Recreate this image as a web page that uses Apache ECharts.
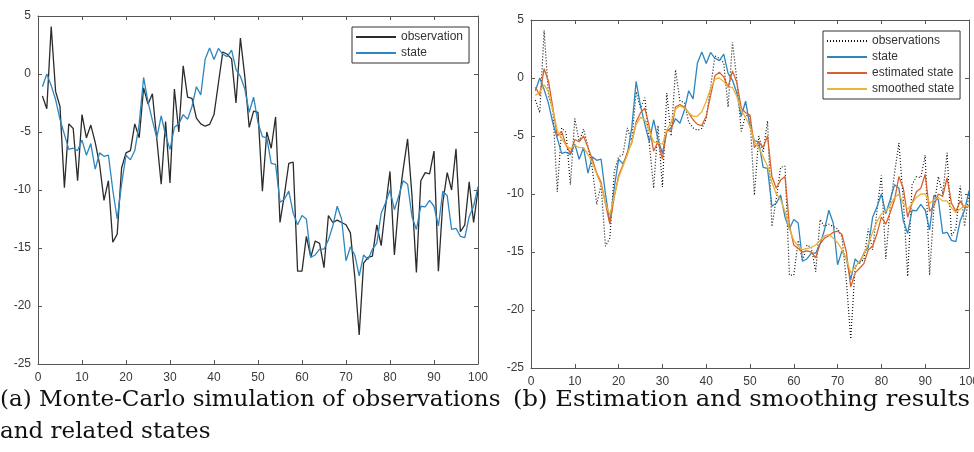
<!DOCTYPE html>
<html>
<head>
<meta charset="utf-8">
<script src="https://cdn.jsdelivr.net/npm/echarts@6/dist/echarts.min.js"></script>
<style>
html,body{margin:0;padding:0;background:#fff;}
#chart{width:974px;height:452px;}
</style>
</head>
<body>
<div id="chart"></div>
<script>
// time steps 1..100
const steps = Array.from({length: 100}, (_, k) => k + 1);

const observation = [
  -1.9, -3.0, 4.1, -1.5, -2.8, -9.8, -4.3, -4.7, -9.2, -3.5,
  -5.5, -4.4, -5.9, -7.8, -10.9, -9.2, -14.5, -13.8, -8.1, -6.8,
  -6.6, -4.3, -5.5, -1.2, -2.6, -1.7, -5.6, -9.5, -4.1, -9.4,
  -1.3, -5.0, 0.7, -2.0, -2.1, -3.8, -4.3, -4.5, -4.35, -3.5,
  -0.8, 1.9, 1.7, 1.3, -2.5, 3.1, -0.2, -4.6, -3.2, -3.3,
  -10.1, -5.0, -6.4, -3.7, -12.8, -10.4, -7.7, -7.6, -17.0, -17.0,
  -14.0, -15.8, -14.4, -14.6, -16.7, -12.2, -12.8, -12.6, -12.8, -13.0,
  -13.7, -17.5, -22.5, -16.3, -15.8, -15.7, -13.0, -14.8, -11.4, -8.4,
  -15.6, -11.1, -8.2, -5.6, -10.5, -17.1, -9.2, -8.5, -8.6, -6.65,
  -17.0, -11.1, -8.5, -10.0, -6.45, -13.6, -13.0, -9.3, -12.8, -10.0
];

const state = [
  -1.1, 0.0, -1.0, -2.2, -3.9, -5.2, -6.5, -6.4, -6.6, -5.7,
  -7.0, -6.0, -8.2, -6.8, -7.1, -7.0, -10.0, -12.5, -9.5, -7.0,
  -7.4, -6.6, -4.3, -0.3, -2.4, -4.0, -5.5, -3.6, -5.3, -6.5,
  -4.6, -4.3, -3.5, -3.9, -2.8, -1.1, -1.8, 1.3, 2.25, 1.25,
  2.2, 1.7, 1.5, 2.05, 0.4, -0.2, -1.3, -3.3, -2.0, -4.2,
  -5.4, -5.5, -7.7, -7.8, -11.05, -10.8, -10.1, -12.0, -13.0, -12.2,
  -12.5, -15.8, -15.6, -15.1, -15.1, -14.3, -13.1, -11.4, -12.5, -16.1,
  -14.9, -15.6, -17.4, -15.6, -16.0, -15.1, -14.6, -12.0, -11.1, -10.0,
  -11.7, -10.5, -9.2, -9.5, -12.3, -13.4, -11.4, -11.45, -10.9, -11.4,
  -13.1, -10.1, -10.5, -13.4, -13.3, -14.0, -14.1, -12.3, -11.4, -9.7
];

const estimatedState = [
  -0.8, -1.5, 0.8, -0.3, -2.6, -5.0, -4.6, -5.8, -6.5, -5.3,
  -5.5, -5.0, -6.0, -7.0, -8.2, -9.0, -10.8, -12.6, -10.3, -8.4,
  -7.5, -6.4, -5.6, -3.8, -3.0, -2.6, -4.2, -6.3, -5.5, -7.0,
  -4.5, -4.6, -2.5, -2.3, -2.5, -3.0, -3.6, -4.0, -4.1, -3.3,
  -1.5, 0.2, 0.5, 0.1, -0.8, 0.6, -0.4, -2.6, -3.0, -3.2,
  -6.0, -5.5, -6.0, -5.0, -8.5, -9.5, -8.8, -8.5, -12.7, -14.4,
  -14.7, -15.0, -14.9, -15.0, -15.5, -14.3, -13.8, -13.6, -13.3, -13.2,
  -13.5, -15.0, -18.0, -16.8, -16.4, -16.0, -14.8, -14.5, -13.4, -12.0,
  -12.6, -11.6, -10.5, -8.5, -9.5, -12.0, -10.8, -9.8, -9.5, -8.3,
  -11.5, -11.0, -10.0, -10.2, -8.6, -10.8, -11.5, -10.6, -11.2, -11.0
];

const smoothedState = [
  -1.5, -1.2, -0.6, -1.2, -2.8, -4.5, -5.2, -5.8, -6.1, -5.8,
  -6.0, -6.0, -6.6, -7.3, -8.3, -9.2, -10.8, -11.8, -10.2, -8.6,
  -7.6, -6.6, -5.5, -4.0, -3.4, -3.6, -4.6, -5.5, -5.6, -5.7,
  -4.5, -3.8, -2.7, -2.4, -2.6, -3.0, -3.3, -3.3, -2.9, -2.0,
  -0.9, -0.1, 0.0, -0.3, -0.8, -0.8, -1.6, -2.8, -3.4, -4.2,
  -5.5, -6.0, -6.8, -7.6, -9.0, -10.0, -10.5, -11.5, -13.0, -14.0,
  -14.5, -14.8, -14.7, -14.6, -14.4, -14.0, -13.6, -13.5, -13.8, -14.2,
  -14.8, -15.6, -16.8, -16.3, -15.8, -15.2, -14.3, -13.3, -12.4, -11.7,
  -11.5, -11.0, -10.3, -10.0, -10.8, -11.3, -10.8, -10.3, -10.0, -10.0,
  -10.8, -10.5, -10.3, -10.6, -10.6, -11.2, -11.6, -11.3, -11.0, -11.1
];

const xTicks = {min: 0, max: 100, interval: 10};
const yTicks = {min: -25, max: 5, interval: 5};

const captionA1 = '(a) Monte-Carlo simulation of observations';
const captionA2 = 'and related states';
const captionB = '(b) Estimation and smoothing results';

const pairs = arr => arr.map((v, k) => [steps[k], v]);

const AXIS_COLOR = '#555';
const LABEL_COLOR = '#3a3a3a';
const BLUE = '#2f86be';
const RED = '#d9622b';
const YELLOW = '#e9b43a';
const BLACK = '#2b2b2b';

// fixed plot boxes; labels may run past the page edge
const grids = [
  {left: 38, top: 16, width: 440, height: 348, outerBoundsMode: 'none', containLabel: false},
  {left: 531, top: 20, width: 438, height: 348, outerBoundsMode: 'none', containLabel: false}
];

const tickStyle = {show: true, inside: true, length: 4, lineStyle: {color: AXIS_COLOR}};
const lineStyleAxis = {show: true, onZero: false, lineStyle: {color: AXIS_COLOR, width: 1}};

function axesFor(gi) {
  const xs = [
    {type: 'value', gridIndex: gi, position: 'bottom', ...xTicks,
     axisLine: lineStyleAxis, axisTick: tickStyle,
     axisLabel: {color: LABEL_COLOR, fontSize: 12, fontFamily: 'Liberation Sans', margin: 8},
     splitLine: {show: false}},
    {type: 'value', gridIndex: gi, position: 'top', ...xTicks,
     axisLine: lineStyleAxis, axisTick: tickStyle,
     axisLabel: {show: false}, splitLine: {show: false}}
  ];
  const ys = [
    {type: 'value', gridIndex: gi, position: 'left', ...yTicks,
     axisLine: lineStyleAxis, axisTick: tickStyle,
     axisLabel: {color: LABEL_COLOR, fontSize: 12, fontFamily: 'Liberation Sans', margin: 7},
     splitLine: {show: false}},
    {type: 'value', gridIndex: gi, position: 'right', ...yTicks,
     axisLine: lineStyleAxis, axisTick: tickStyle,
     axisLabel: {show: false}, splitLine: {show: false}}
  ];
  return {xs, ys};
}

const a0 = axesFor(0), a1 = axesFor(1);

function line(name, data, color, xi, yi, type, width) {
  return {
    name, type: 'line', data: pairs(data), xAxisIndex: xi, yAxisIndex: yi,
    symbol: 'none', smooth: false, animation: false,
    lineStyle: {color, width: width || 1.3, type: type || 'solid'},
    itemStyle: {color}
  };
}

const legendText = {color: '#333', fontSize: 12, fontFamily: 'Liberation Sans'};
const legendBase = {
  orient: 'vertical', itemWidth: 40, itemHeight: 12, itemGap: 4,
  padding: [4, 6, 4, 3], borderColor: '#333', borderWidth: 1, backgroundColor: '#fff',
  textStyle: legendText, itemStyle: {opacity: 0}
};

const captionFont = '23px "DejaVu Serif"';

const option = {
  backgroundColor: '#fff',
  animation: false,
  grid: grids,
  xAxis: [...a0.xs, ...a1.xs],
  yAxis: [...a0.ys, ...a1.ys],
  legend: [
    {...legendBase, left: 352, top: 27,
     data: [{name: 'observation'}, {name: 'state'}]},
    {...legendBase, left: 823, top: 31,
     data: [{name: 'observations'}, {name: 'state '}, {name: 'estimated state'}, {name: 'smoothed state'}]}
  ],
  series: [
    line('observation', observation, BLACK, 0, 0),
    line('state', state, BLUE, 0, 0),
    line('observations', observation, '#111', 2, 2, [1, 2], 1.2),
    line('state ', state, BLUE, 2, 2),
    line('estimated state', estimatedState, RED, 2, 2),
    line('smoothed state', smoothedState, YELLOW, 2, 2)
  ],
  graphic: [
    {type: 'text', x: 0, y: 400, style: {text: captionA1, font: captionFont, fill: '#111', verticalAlign: 'middle'}},
    {type: 'text', x: 0, y: 432, style: {text: captionA2, font: captionFont, fill: '#111', verticalAlign: 'middle'}},
    {type: 'text', x: 513, y: 400, scaleX: 1.055, style: {text: captionB, font: captionFont, fill: '#111', verticalAlign: 'middle'}}
  ]
};

const chart = echarts.init(document.getElementById('chart'), null, {renderer: 'canvas'});
chart.setOption(option);
</script>
</body>
</html>
